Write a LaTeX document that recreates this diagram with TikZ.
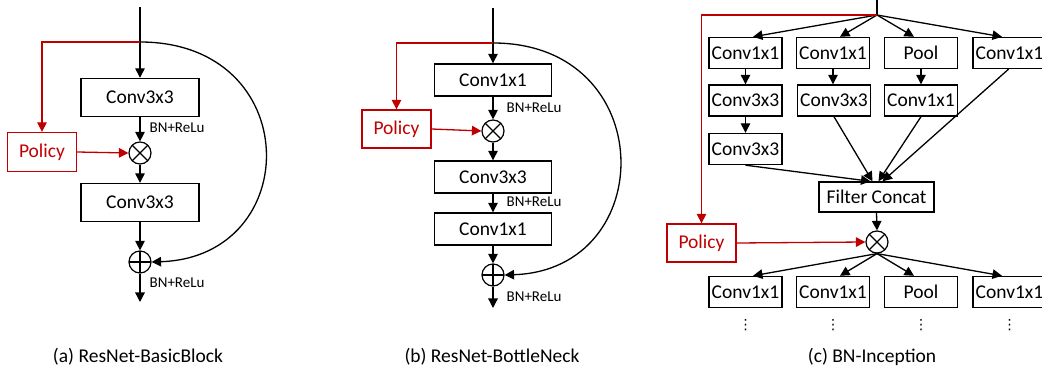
\documentclass[tikz,border=0pt]{standalone}
\usepackage{fontspec}
\setmainfont{Carlito}
\newfontfamily\djv{DejaVu Sans}
\usetikzlibrary{arrows.meta,calc}
\definecolor{polred}{RGB}{192,0,0}
\begin{document}
\begin{tikzpicture}[x=1pt,y=-1pt,
  >={Triangle[length=9.5pt,width=9.5pt]},
  line width=1.3pt,
  box/.style={draw,line width=1.4pt,inner sep=0pt,font=\fontsize{19.5}{20}\selectfont},
  boxab/.style={box,minimum width=118pt,minimum height=38pt},
  boxb/.style={box,minimum width=117pt,minimum height=32pt},
  boxc/.style={box,minimum width=73pt,minimum height=31pt},
  polbox/.style={draw=polred,text=polred,line width=1.3pt,inner sep=0pt,minimum width=69pt,minimum height=39pt,font=\fontsize{19.5}{20}\selectfont},
  otimes/.style={draw,circle,line width=1.2pt,minimum size=22pt,inner sep=0pt,
    path picture={\draw[line width=1.2pt] (path picture bounding box.north west) -- (path picture bounding box.south east)
      (path picture bounding box.north east) -- (path picture bounding box.south west);}},
  oplus/.style={draw,circle,line width=1.2pt,minimum size=22pt,inner sep=0pt,
    path picture={\draw[line width=1.2pt] (path picture bounding box.north) -- (path picture bounding box.south)
      (path picture bounding box.east) -- (path picture bounding box.west);}},
  bnlbl/.style={anchor=west,inner sep=0pt,font=\fontsize{15}{16}\selectfont},
  captxt/.style={font=\fontsize{19.5}{20}\selectfont},
  redline/.style={draw=polred,line width=1.3pt},
  vdotsn/.style={inner sep=0pt,font=\djv\fontsize{14}{14}\selectfont}
]
\useasboundingbox (0,0) rectangle (1042,371);

% ---------------- (a) ----------------
\coordinate (atop) at (140,7);
\coordinate (abr) at (140,42);
\coordinate (ared) at (42,42);
\coordinate (aend) at (140,302);
\node[boxab] (ac1) at (140,97.5) {Conv3x3};
\node[otimes] (aot) at (140,153) {};
\node[polbox] (apol) at (42,152) {Policy};
\node[boxab] (ac2) at (140,202.5) {Conv3x3};
\node[oplus] (aop) at (140,262) {};
\node[bnlbl] (abn1) at (149,128) {BN+ReLu};
\node[bnlbl] (abn2) at (149,283) {BN+ReLu};
\draw[->] (atop) -- (ac1.north);
\draw[->] (ac1.south) -- (aot.north);
\draw[->] (aot.south) -- (ac2.north);
\draw[->] (ac2.south) -- (aop.north);
\draw[->] (aop.south) -- (aend);
\draw[->] (abr) .. controls (305,42) and (305,257) .. (aop.east);
\draw[redline,->] (abr) -- (ared) -- (apol.north);
\draw[redline,->] (apol.east) -- (aot.west);
\node[captxt] (acap) at (138,357) {(a) ResNet-BasicBlock};

% ---------------- (b) ----------------
\coordinate (btop) at (493,8);
\coordinate (bbr) at (493,43);
\coordinate (bred) at (396.5,43);
\coordinate (bend) at (493,308);
\node[boxb] (bc1) at (493,80) {Conv1x1};
\node[otimes] (bot) at (493,131) {};
\node[polbox,minimum height=38pt] (bpol) at (396.5,129) {Policy};
\node[boxb] (bc2) at (493,177) {Conv3x3};
\node[boxb] (bc3) at (493,229) {Conv1x1};
\node[oplus] (bop) at (493,275) {};
\node[bnlbl] (bbn1) at (506,108) {BN+ReLu};
\node[bnlbl] (bbn2) at (506,202) {BN+ReLu};
\node[bnlbl] (bbn3) at (506,297) {BN+ReLu};
\draw[->] (btop) -- (bc1.north);
\draw[->] (bc1.south) -- (bot.north);
\draw[->] (bot.south) -- (bc2.north);
\draw[->] (bc2.south) -- (bc3.north);
\draw[->] (bc3.south) -- (bop.north);
\draw[->] (bop.south) -- (bend);
\draw[->] (bbr) .. controls (660,43) and (660,270) .. (bop.east);
\draw[redline,->] (bbr) -- (bred) -- (bpol.north);
\draw[redline,->] (bpol.east) -- (bot.west);
\node[captxt] (bcap) at (492,357) {(b) ResNet-BottleNeck};

% ---------------- (c) ----------------
\coordinate (ctop) at (877,0);
\coordinate (cbr) at (877,15);
\coordinate (cred) at (701.5,15);
\node[boxc] (t1) at (745.5,53) {Conv1x1};
\node[boxc] (t2) at (833,53) {Conv1x1};
\node[boxc] (t3) at (921,53) {Pool};
\node[boxc] (t4) at (1009.5,53) {Conv1x1};
\node[boxc] (m1) at (745.5,100.5) {Conv3x3};
\node[boxc] (m2) at (834,100.5) {Conv3x3};
\node[boxc] (m3) at (921,100.5) {Conv1x1};
\node[boxc] (l1) at (745.5,149) {Conv3x3};
\node[box,minimum width=115pt,minimum height=30pt] (fc) at (876.5,197) {Filter Concat};
\node[otimes] (cot) at (877,242) {};
\node[polbox,minimum height=38pt] (cpol) at (701.5,243) {Policy};
\node[boxc] (u1) at (745.5,292) {Conv1x1};
\node[boxc] (u2) at (833,292) {Conv1x1};
\node[boxc] (u3) at (921,292) {Pool};
\node[boxc] (u4) at (1009.5,292) {Conv1x1};
\node[vdotsn] (d1) at (745.5,325) {⋮};
\node[vdotsn] (d2) at (833,325) {⋮};
\node[vdotsn] (d3) at (921,325) {⋮};
\node[vdotsn] (d4) at (1009.5,325) {⋮};

\draw (ctop) -- (cbr);
\draw[->] (cbr) -- ([xshift=7.5pt]t1.north);
\draw[->] (cbr) -- ([xshift=7pt]t2.north);
\draw[->] (cbr) -- ([xshift=-7pt]t3.north);
\draw[->] (cbr) -- ([xshift=-7.5pt]t4.north);
\draw[->] (t1.south) -- (m1.north);
\draw[->] (m1.south) -- (l1.north);
\draw[->] (t2.south) -- (t2.south |- m2.north);
\draw[->] (t3.south) -- (m3.north);
\draw[->] (l1.south) -- ([xshift=-6pt]fc.north);
\draw[->] (m2.south) -- ([xshift=-4pt]fc.north);
\draw[->] (m3.south) -- ([xshift=2pt]fc.north);
\draw[->] ([xshift=-1pt]t4.south) -- ([xshift=6pt]fc.north);
\draw[->] (fc.south) -- (cot.north);
\draw[redline,->] (cbr) -- (cred) -- (cpol.north);
\draw[redline,->] (cpol.east) -- (cot.west);
\draw[->] (cot.south) -- ([xshift=7.5pt]u1.north);
\draw[->] (cot.south) -- ([xshift=7pt]u2.north);
\draw[->] (cot.south) -- ([xshift=-7pt]u3.north);
\draw[->] (cot.south) -- ([xshift=-7.5pt]u4.north);
\node[captxt] (ccap) at (872,357) {(c) BN-Inception};
\end{tikzpicture}
\end{document}
